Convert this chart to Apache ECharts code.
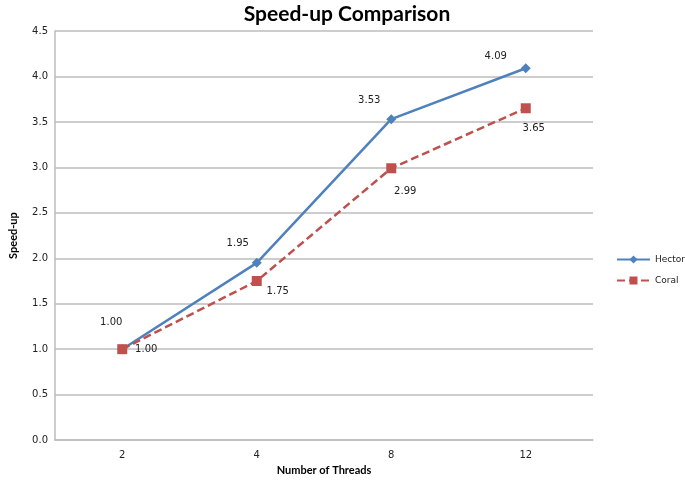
<!DOCTYPE html>
<html>
<head>
<meta charset="utf-8">
<script src="https://cdn.jsdelivr.net/npm/echarts@6/dist/echarts.min.js"></script>
<style>html,body{margin:0;padding:0;background:#fff}#c{width:685px;height:481px}</style>
</head>
<body>
<div id="c"></div>
<script>
const categories = ['2', '4', '8', '12'];
const hectorValues = [1.00, 1.95, 3.53, 4.09];
const coralValues = [1.00, 1.75, 2.99, 3.65];
const seriesNames = ['Hector', 'Coral'];
const titleText = 'Speed-up Comparison';
const xAxisName = 'Number of Threads';
const yAxisName = 'Speed-up';

// label offsets (style only)
const hectorLabelOffsets = [[-11, -27], [-19, -19], [-22, -19], [-30, -12]];
const coralLabelOffsets = [[24, 0], [21, 10], [14, 23], [8, 20]];

function withLabels(values, offsets) {
  return values.map((v, i) => ({
    value: v,
    label: { offset: offsets[i] }
  }));
}

const chart = echarts.init(document.getElementById('c'), null, { renderer: 'canvas' });
const labelFont = { fontFamily: 'DejaVu Sans', fontSize: 10, color: '#222' };
chart.setOption({
  animation: false,
  backgroundColor: '#fff',
  title: {
    text: titleText,
    left: 342, top: -1, textAlign: 'center',
    textStyle: { fontFamily: 'Lato', fontWeight: 'bold', fontSize: 21, color: '#000' }
  },
  legend: {
    orient: 'vertical',
    left: 611, top: 250,
    itemWidth: 33, itemHeight: 10, itemGap: 12,
    textStyle: { fontFamily: 'DejaVu Sans', fontSize: 9, color: '#222' },
    data: seriesNames
  },
  grid: { left: 45, right: 92, top: 31, bottom: 33, containLabel: false },
  xAxis: {
    type: 'category',
    data: categories,
    boundaryGap: true,
    name: xAxisName,
    nameLocation: 'middle',
    nameGap: 24,
    nameTextStyle: { fontFamily: 'Lato', fontWeight: 'bold', fontSize: 11, color: '#000' },
    axisLine: { lineStyle: { color: '#BDBDBD', width: 1.5 } },
    axisTick: { show: false },
    axisLabel: { fontFamily: 'DejaVu Sans', fontSize: 10, color: '#222', margin: 10 },
    splitLine: { show: false }
  },
  yAxis: {
    type: 'value',
    min: 0, max: 4.5, interval: 0.5,
    name: yAxisName,
    nameLocation: 'middle',
    nameGap: 36,
    nameRotate: 90,
    nameTextStyle: { fontFamily: 'Lato', fontWeight: 'bold', fontSize: 11, color: '#000' },
    axisLine: { show: true, lineStyle: { color: '#BDBDBD', width: 1.5 } },
    axisTick: { show: false },
    axisLabel: { fontFamily: 'DejaVu Sans', fontSize: 10, color: '#222', margin: 7,
      formatter: v => v.toFixed(1) },
    splitLine: { show: true, lineStyle: { color: '#BDBDBD', width: 1.5 } }
  },
  series: [
    {
      name: seriesNames[0],
      type: 'line',
      data: withLabels(hectorValues, hectorLabelOffsets),
      symbol: 'diamond',
      symbolSize: 10,
      itemStyle: { color: '#4F81BD' },
      lineStyle: { color: '#4F81BD', width: 2.5 },
      label: { show: true, position: 'inside', formatter: p => p.value.toFixed(2), ...labelFont },
      z: 3
    },
    {
      name: seriesNames[1],
      type: 'line',
      data: withLabels(coralValues, coralLabelOffsets),
      symbol: 'rect',
      symbolSize: 10,
      itemStyle: { color: '#C0504D' },
      lineStyle: { color: '#C0504D', width: 2.5, type: [8, 4] },
      label: { show: true, position: 'inside', formatter: p => p.value.toFixed(2), ...labelFont },
      z: 4
    }
  ]
});
</script>
</body>
</html>
